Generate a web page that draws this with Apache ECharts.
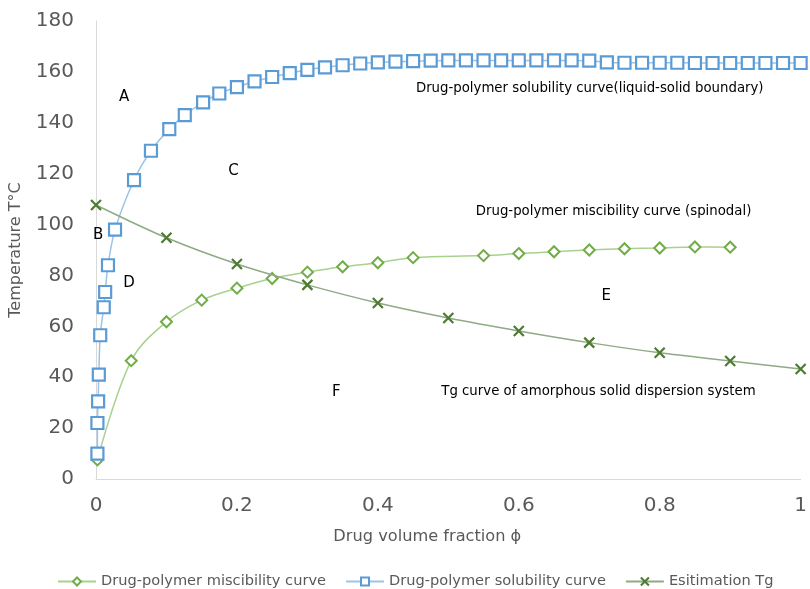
<!DOCTYPE html>
<html>
<head>
<meta charset="utf-8">
<script src="https://cdn.jsdelivr.net/npm/echarts@6/dist/echarts.min.js"></script>
<style>
  html, body { margin: 0; padding: 0; background: #fff; }
  #chart { width: 810px; height: 589px; }
</style>
</head>
<body>
<div id="chart"></div>
<script>
// Drug-polymer phase diagram: volume fraction vs temperature (°C)

// Spinodal (miscibility) curve
const miscX = [0.002, 0.05, 0.10, 0.15, 0.20, 0.25, 0.30, 0.35, 0.40, 0.45, 0.55, 0.60, 0.65, 0.70, 0.75, 0.80, 0.85, 0.90];
const miscT = [7.5, 46.5, 61.8, 70.3, 75.0, 78.8, 81.3, 83.4, 85.0, 87.0, 87.8, 88.6, 89.3, 90.0, 90.5, 90.8, 91.2, 91.1];

// Solubility (liquid-solid boundary) curve
const solX = [0.002, 0.002, 0.003, 0.004, 0.006, 0.011, 0.013, 0.017, 0.027, 0.054, 0.078, 0.104, 0.126, 0.152, 0.175, 0.200,
  0.225, 0.250, 0.275, 0.300, 0.325, 0.350, 0.375, 0.400, 0.425, 0.450, 0.475, 0.500, 0.525, 0.550, 0.575, 0.600,
  0.625, 0.650, 0.675, 0.700, 0.725, 0.750, 0.775, 0.800, 0.825, 0.850, 0.875, 0.900, 0.925, 0.950, 0.975, 1.000];
const solT = [10.0, 22.0, 30.5, 41.0, 56.5, 67.5, 73.5, 84.0, 98.0, 117.5, 129.0, 137.5, 143.0, 148.0, 151.5, 154.0,
  156.3, 158.0, 159.5, 160.8, 161.8, 162.6, 163.3, 163.7, 164.0, 164.2, 164.4, 164.5, 164.5, 164.5, 164.5, 164.5,
  164.5, 164.5, 164.5, 164.4, 163.7, 163.6, 163.6, 163.6, 163.6, 163.5, 163.5, 163.5, 163.5, 163.5, 163.5, 163.5];

// Estimated glass transition temperature
const tgX = [0.0, 0.1, 0.2, 0.3, 0.4, 0.5, 0.6, 0.7, 0.8, 0.9, 1.0];
const tgT = [107.7, 94.8, 84.5, 76.3, 69.2, 63.3, 58.2, 53.6, 49.6, 46.4, 43.2];

const xTicks = ['0', '0.2', '0.4', '0.6', '0.8', '1'];

const seriesNames = ['Drug-polymer miscibility curve', 'Drug-polymer solubility curve', 'Esitimation Tg'];

// Region and curve annotations, in data coordinates
const notes = [
  { text: 'A', x: 0.04, y: 150 },
  { text: 'C', x: 0.195, y: 121 },
  { text: 'B', x: 0.003, y: 96 },
  { text: 'D', x: 0.047, y: 77 },
  { text: 'E', x: 0.724, y: 72 },
  { text: 'F', x: 0.341, y: 34 }
];
const curveNotes = [
  { text: 'Drug-polymer solubility curve(liquid-solid boundary)', x: 0.454, y: 153.4 },
  { text: 'Drug-polymer miscibility curve (spinodal)', x: 0.539, y: 105.3 },
  { text: 'Tg curve of amorphous solid dispersion system', x: 0.49, y: 34.3 }
];

const pair = (xs, ys) => xs.map((x, i) => [x, ys[i]]);

const FONT = "'DejaVu Sans', sans-serif";
const chart = echarts.init(document.getElementById('chart'), null, { renderer: 'canvas' });

const crossPath = 'path://M0,0L10,10M10,0L0,10';

chart.setOption({
  animation: false,
  backgroundColor: '#ffffff',
  textStyle: { fontFamily: FONT },
  grid: { left: 95, right: 8, top: 21, bottom: 110, containLabel: false },
  legend: {
    top: 569,
    left: 52,
    itemGap: 19,
    itemWidth: 38,
    itemHeight: 10,
    textStyle: { color: '#595959', fontSize: 14.6, fontFamily: FONT },
    data: seriesNames
  },
  xAxis: {
    type: 'value',
    min: 0, max: 1, interval: 0.2,
    name: 'Drug volume fraction ϕ',
    nameLocation: 'middle',
    nameGap: 50,
    nameTextStyle: { color: '#595959', fontSize: 16.2, fontFamily: FONT, padding: [0, 42, 0, 0] },
    axisLine: { show: true, lineStyle: { color: '#d9d9d9', width: 1 } },
    axisTick: { show: false },
    splitLine: { show: false },
    axisLabel: {
      color: '#595959', fontSize: 20, margin: 17, fontFamily: FONT,
      formatter: v => xTicks[Math.round(v / 0.2)]
    }
  },
  yAxis: {
    type: 'value',
    min: 0, max: 180, interval: 20,
    name: 'Temperature T°C',
    nameLocation: 'middle',
    nameGap: 72,
    nameTextStyle: { color: '#595959', fontSize: 16, fontFamily: FONT },
    axisLine: { show: true, lineStyle: { color: '#d9d9d9', width: 1 } },
    axisTick: { show: false },
    splitLine: { show: false },
    axisLabel: { color: '#595959', fontSize: 20, margin: 22, fontFamily: FONT }
  },
  series: [
    {
      name: seriesNames[0],
      type: 'line',
      smooth: 0.35,
      data: pair(miscX, miscT),
      symbol: 'diamond',
      symbolSize: 11,
      lineStyle: { color: '#a9d18e', width: 1.5 },
      itemStyle: { color: '#ffffff', borderColor: '#70ad47', borderWidth: 2 },
      z: 3
    },
    {
      name: seriesNames[1],
      type: 'line',
      smooth: 0.3,
      data: pair(solX, solT),
      symbol: 'rect',
      symbolSize: 12,
      lineStyle: { color: '#9dc3e6', width: 1.5 },
      itemStyle: { color: '#ffffff', borderColor: '#5b9bd5', borderWidth: 2.2 },
      z: 4,
      markPoint: {
        symbol: 'circle',
        symbolSize: 0,
        silent: true,
        label: { show: true, color: '#000000', fontSize: 15, fontFamily: FONT, position: 'inside' },
        data: notes.map(n => ({ coord: [n.x, n.y], value: n.text, label: { formatter: n.text } }))
      }
    },
    {
      name: seriesNames[2],
      type: 'line',
      smooth: 0.3,
      data: pair(tgX, tgT),
      symbol: crossPath,
      symbolSize: 10,
      lineStyle: { color: '#8faa86', width: 1.5 },
      itemStyle: { color: 'none', borderColor: '#4e7a32', borderWidth: 2.2 },
      z: 5,
      markPoint: {
        symbol: 'circle',
        symbolSize: 0,
        silent: true,
        label: { show: true, color: '#000000', fontSize: 13.3, fontFamily: FONT, position: 'right', distance: 0 },
        data: curveNotes.map(n => ({ coord: [n.x, n.y], value: n.text, label: { formatter: n.text } }))
      }
    }
  ]
});
</script>
</body>
</html>
